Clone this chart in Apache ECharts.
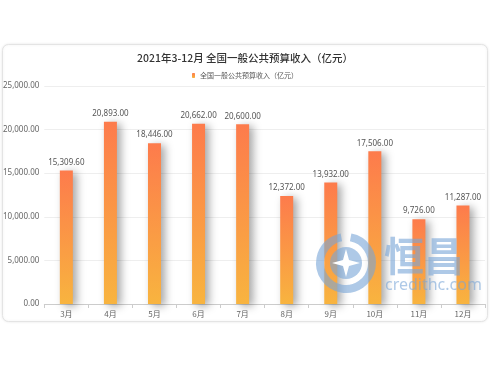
<!DOCTYPE html>
<html><head><meta charset="utf-8">
<script src="https://cdn.jsdelivr.net/npm/echarts@6/dist/echarts.min.js"></script>
<style>html,body{margin:0;padding:0;background:#fff;}#c{width:490px;height:367px;}</style>
</head><body><div id="c"></div>
<script>
var categories = ['3月','4月','5月','6月','7月','8月','9月','10月','11月','12月'];
var values = [15309.60, 20893, 18446, 20662, 20600, 12372, 13932, 17506, 9726, 11287];
var seriesName = '全国一般公共预算收入（亿元）';
var titleText = '2021年3-12月 全国一般公共预算收入（亿元）';

function fmt(v){ return Number(v).toLocaleString('en-US',{minimumFractionDigits:2,maximumFractionDigits:2}); }

var chart = echarts.init(document.getElementById('c'));
var wm = 'rgba(120,165,215,0.6)';
chart.setOption({
  animation:false,
  backgroundColor:'#fff',
  title:{text:titleText,left:'center',top:48,textStyle:{fontSize:10.5,fontWeight:500,color:'#333',fontFamily:'Noto Sans CJK SC'}},
  legend:{top:67,left:'center',itemWidth:3,itemHeight:5,itemGap:5,textStyle:{fontSize:7,color:'#555',fontFamily:'Noto Sans CJK SC'},data:[seriesName]},
  grid:{left:44,right:5,top:86,bottom:63,containLabel:false},
  xAxis:{type:'category',data:categories,
    axisLine:{lineStyle:{color:'#ccc'}},
    axisTick:{show:true,length:4,lineStyle:{color:'#ccc'}},
    axisLabel:{fontSize:8,color:'#666',margin:6,fontFamily:'Noto Sans CJK SC'}},
  yAxis:{type:'value',min:0,max:25000,interval:5000,
    axisLine:{show:false},axisTick:{show:false},
    splitLine:{lineStyle:{color:'#eee'}},
    axisLabel:{fontSize:8,color:'#666',margin:5,formatter:function(v){return fmt(v);},fontFamily:'Noto Sans'}},
  graphic:[
    {type:'rect',z:-10,shape:{x:2.5,y:44.5,width:485,height:277,r:6},style:{fill:'#fff',stroke:'#e4e4e4',lineWidth:1,shadowBlur:3,shadowColor:'rgba(0,0,0,0.08)'}},
    {type:'arc',z:100,shape:{cx:346,cy:263,r:26,startAngle:-Math.PI/2+0.18,endAngle:Math.PI*1.5-0.18},style:{stroke:wm,lineWidth:8,fill:null}},
    {type:'circle',z:100,shape:{cx:346,cy:263,r:16},style:{fill:wm}},
    {type:'polygon',z:101,shape:{points:[[346,249],[349,260],[360,263],[349,266],[346,277],[343,266],[332,263],[343,260]]},style:{fill:'#fff'}},
    {type:'text',z:100,left:384,top:236,style:{text:'恒昌',fontSize:40,fontWeight:'bold',fill:wm,fontFamily:'Noto Sans CJK SC'}},
    {type:'text',z:100,left:385,top:277,style:{text:'credithc.com',fontSize:16,fill:wm,fontFamily:'Noto Sans'}}
  ],
  series:[{name:seriesName,type:'bar',data:values,barWidth:13,
    itemStyle:{color:new echarts.graphic.LinearGradient(0,0,0,1,[{offset:0,color:'#fd7b4c'},{offset:1,color:'#f8b43f'}]),
      shadowColor:'rgba(0,0,0,0.35)',shadowBlur:8,shadowOffsetX:4,shadowOffsetY:2},
    label:{show:true,position:'top',distance:4,fontSize:8,color:'#555',formatter:function(p){return fmt(p.value);},fontFamily:'Noto Sans'}
  }]
});
</script></body></html>
